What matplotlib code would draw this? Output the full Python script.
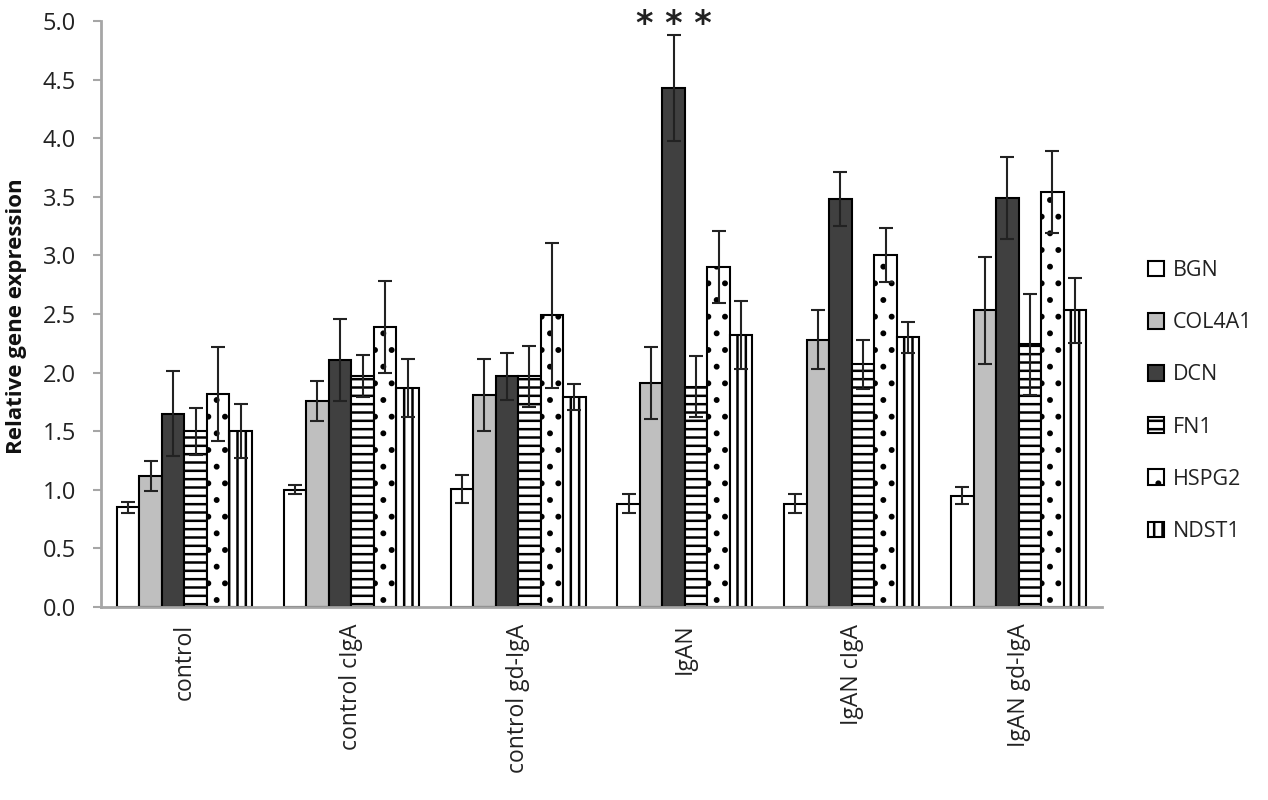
import matplotlib
matplotlib.use("Agg")
import matplotlib.pyplot as plt
import numpy as np

groups = ["control", "control cIgA", "control gd-IgA", "IgAN", "IgAN cIgA", "IgAN gd-IgA"]
genes = ["BGN", "COL4A1", "DCN", "FN1", "HSPG2", "NDST1"]

bgn = [0.85, 1.00, 1.01, 0.88, 0.88, 0.95]
col4a1 = [1.12, 1.76, 1.81, 1.91, 2.28, 2.53]
dcn = [1.65, 2.11, 1.97, 4.43, 3.48, 3.49]
fn1 = [1.50, 1.97, 1.97, 1.88, 2.07, 2.24]
hspg2 = [1.82, 2.39, 2.49, 2.90, 3.00, 3.54]
ndst1 = [1.50, 1.87, 1.79, 2.32, 2.30, 2.53]

bgn_err = [0.05, 0.04, 0.12, 0.08, 0.08, 0.07]
col4a1_err = [0.13, 0.17, 0.31, 0.31, 0.25, 0.46]
dcn_err = [0.36, 0.35, 0.20, 0.45, 0.23, 0.35]
fn1_err = [0.20, 0.18, 0.26, 0.26, 0.21, 0.43]
hspg2_err = [0.40, 0.39, 0.62, 0.31, 0.23, 0.35]
ndst1_err = [0.23, 0.25, 0.11, 0.29, 0.13, 0.28]

yticks = [0.0, 0.5, 1.0, 1.5, 2.0, 2.5, 3.0, 3.5, 4.0, 4.5, 5.0]
signif_label = "* * *"

values = [bgn, col4a1, dcn, fn1, hspg2, ndst1]
errors = [bgn_err, col4a1_err, dcn_err, fn1_err, hspg2_err, ndst1_err]
faces = ["white", "#bfbfbf", "#404040", "white", "white", "white"]
hatches = [None, None, None, "--", ".", "||"]

plt.rcParams["font.family"] = ["Open Sans", "DejaVu Sans"]
plt.rcParams["hatch.linewidth"] = 1.8
plt.rcParams["hatch.color"] = "black"

fig = plt.figure(figsize=(12.68, 8), dpi=100)
ax = fig.add_axes([101 / 1268, 1 - 607 / 800, 1001 / 1268, (607 - 21) / 800])

x = np.arange(len(groups))
w = 0.135
for i, (vals, errs) in enumerate(zip(values, errors)):
    pos = x + (i - 2.5) * w
    ax.bar(pos, vals, width=w, color=faces[i], edgecolor="black", linewidth=1.5,
           hatch=hatches[i], label=genes[i], zorder=2)
    ax.errorbar(pos, vals, yerr=errs, fmt="none", ecolor="#222222", elinewidth=1.5,
                capsize=5, capthick=1.5, zorder=3)

# significance marker above IgAN DCN
gi = groups.index("IgAN")
ax.text(x[gi] + (2 - 2.5) * w, dcn[gi] + dcn_err[gi] + 0.09, signif_label,
        ha="center", va="center", fontsize=24, fontweight="bold", color="#222222",
        family=["DejaVu Sans"], clip_on=False)

ax.set_xlim(-0.5, len(groups) - 0.5)
ax.set_ylim(0, 5.0)
ax.set_yticks(yticks)
ax.set_yticklabels([f"{t:.1f}" for t in yticks])
ax.set_xticks(x)
ax.set_xticklabels(groups, rotation=90)
ax.tick_params(axis="x", length=0, pad=12, labelsize=16.5, labelcolor="#222222")
ax.tick_params(axis="y", length=6, width=1.5, color="#a6a6a6", pad=12, labelsize=17,
               labelcolor="#222222")
for s in ["top", "right"]:
    ax.spines[s].set_visible(False)
for s in ["left", "bottom"]:
    ax.spines[s].set_color("#a6a6a6")
    ax.spines[s].set_linewidth(2)

ax.set_ylabel("Relative gene expression", fontsize=16, fontweight="bold", color="#111111")
ax.yaxis.set_label_coords((27 - 101) / 1001, (607 - 316) / 586)

leg = fig.legend(loc="center left", bbox_to_anchor=(1148 / 1268, 1 - 401 / 800),
                 frameon=False, fontsize=15.5, handlelength=0.75, handleheight=0.75,
                 handletextpad=0.4, labelspacing=1.45, borderpad=0, borderaxespad=0)
for t in leg.get_texts():
    t.set_color("#222222")

fig.savefig("out.png", dpi=100)
